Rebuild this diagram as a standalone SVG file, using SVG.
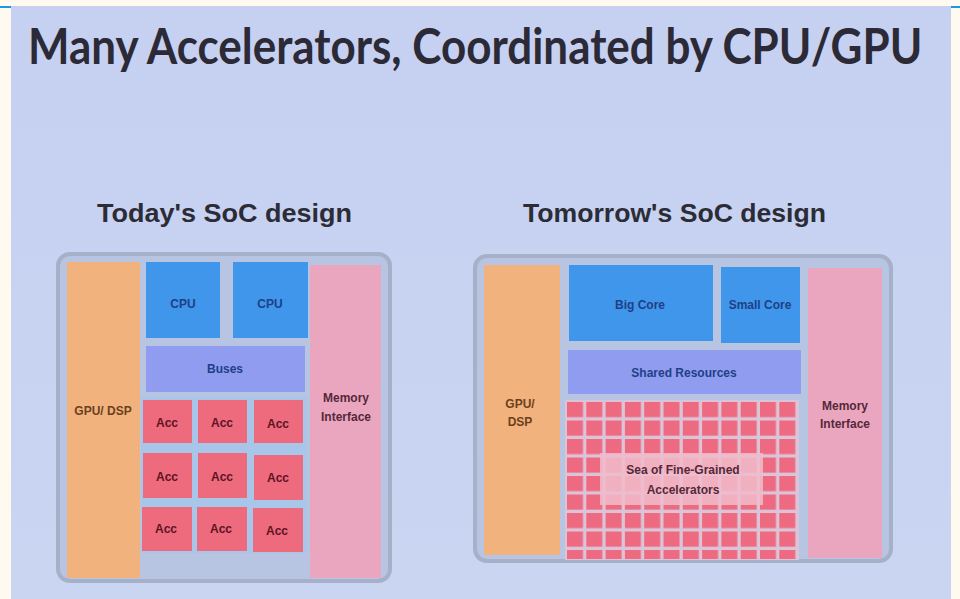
<svg xmlns="http://www.w3.org/2000/svg" width="960" height="599" viewBox="0 0 960 599">
<defs>
<style>
.title{font-family:Lato,"Open Sans","Liberation Sans",sans-serif;font-size:50px;fill:#2b2a36;font-weight:bold}
.sub{font-family:"Liberation Sans",Arial,sans-serif;font-size:26px;font-weight:bold;fill:#2c2c36}
.lbl{font-family:"Liberation Sans",Arial,sans-serif;font-size:12px;font-weight:bold;text-anchor:middle}
.chip{fill:#b7c4e2;stroke:#a6b0c8;stroke-width:4}
.gpu{fill:#f1b27e}
.cpu{fill:#4096ea}
.bus{fill:#909cf0}
.acc{fill:#ee6b7e}
.mem{fill:#eaa6bf}
.tb{fill:#1f3f86}
.tg{fill:#6c3f1c}
.tm{fill:#55283a}
.ta{fill:#5c1424}
</style>
<pattern id="sea" patternUnits="userSpaceOnUse" x="567" y="402" width="19.3" height="18.5">
<rect x="0" y="0" width="16" height="15.2" fill="#ee6a80"/>
</pattern>
<linearGradient id="bg" x1="0" y1="0" x2="0" y2="1">
<stop offset="0" stop-color="#c6d0f1"/>
<stop offset="1" stop-color="#cad5f2"/>
</linearGradient>
</defs>
<rect x="0" y="0" width="960" height="599" fill="#fffaef"/>
<rect x="11" y="6" width="940" height="593" fill="url(#bg)"/>
<rect x="0" y="6" width="11" height="2" fill="#1a98e0"/>
<rect x="951" y="6" width="9" height="2" fill="#1a98e0"/>

<text class="title" transform="translate(28,64) scale(0.86,1)" x="0" y="0" textLength="1040" lengthAdjust="spacingAndGlyphs">Many Accelerators, Coordinated by CPU/GPU</text>
<text class="sub" x="97" y="222" textLength="255" lengthAdjust="spacingAndGlyphs">Today's SoC design</text>
<text class="sub" x="523" y="222" textLength="303" lengthAdjust="spacingAndGlyphs">Tomorrow's SoC design</text>

<g id="today-chip">
<rect class="chip" x="58" y="254" width="332" height="327" rx="12"/>
</g>
<g id="today-gpu">
<rect class="gpu" x="67" y="262" width="73" height="316"/>
<text class="lbl tg" x="103" y="415">GPU/ DSP</text>
</g>
<g id="today-cpu1">
<rect class="cpu" x="146" y="262" width="74" height="76"/>
<text class="lbl tb" x="183" y="308">CPU</text>
</g>
<g id="today-cpu2">
<rect class="cpu" x="233" y="262" width="75" height="76"/>
<text class="lbl tb" x="270" y="308">CPU</text>
</g>
<g id="today-buses">
<rect class="bus" x="146" y="346" width="159" height="46"/>
<text class="lbl tb" x="225" y="373">Buses</text>
</g>
<g id="today-acc">
<rect fill="#a8c6ea" x="141" y="397" width="166" height="156"/>
<rect class="acc" x="143" y="400" width="49" height="43"/><text class="lbl ta" x="167" y="427">Acc</text>
<rect class="acc" x="198" y="400" width="49" height="43"/><text class="lbl ta" x="222" y="427">Acc</text>
<rect class="acc" x="254" y="400" width="49" height="43"/><text class="lbl ta" x="278" y="428">Acc</text>
<rect class="acc" x="143" y="453" width="49" height="45"/><text class="lbl ta" x="167" y="481">Acc</text>
<rect class="acc" x="198" y="453" width="49" height="45"/><text class="lbl ta" x="222" y="481">Acc</text>
<rect class="acc" x="254" y="455" width="49" height="45"/><text class="lbl ta" x="278" y="482">Acc</text>
<rect class="acc" x="142" y="507" width="50" height="44"/><text class="lbl ta" x="166" y="533">Acc</text>
<rect class="acc" x="197" y="507" width="50" height="44"/><text class="lbl ta" x="221" y="533">Acc</text>
<rect class="acc" x="253" y="508" width="50" height="44"/><text class="lbl ta" x="277" y="535">Acc</text>
</g>
<g id="today-memory">
<rect class="mem" x="310" y="265" width="71" height="313"/>
<text class="lbl tm" x="346" y="402">Memory</text>
<text class="lbl tm" x="346" y="421">Interface</text>
</g>

<g id="tomorrow-chip">
<rect class="chip" x="475" y="256" width="416" height="305" rx="12"/>
</g>
<g id="tomorrow-gpu">
<rect class="gpu" x="484" y="265" width="76" height="290"/>
<text class="lbl tg" x="520" y="408">GPU/</text>
<text class="lbl tg" x="520" y="426">DSP</text>
</g>
<g id="big-core">
<rect class="cpu" x="569" y="265" width="144" height="76"/>
<text class="lbl tb" x="640" y="309">Big Core</text>
</g>
<g id="small-core">
<rect class="cpu" x="721" y="267" width="79" height="76"/>
<text class="lbl tb" x="760" y="309">Small Core</text>
</g>
<g id="shared-resources">
<rect class="bus" x="568" y="350" width="233" height="44"/>
<text class="lbl tb" x="684" y="377">Shared Resources</text>
</g>
<g id="sea-accelerators">
<rect fill="#dcc4d8" x="565" y="400" width="234" height="160"/>
<rect fill="url(#sea)" x="567" y="402" width="231" height="157"/>
<rect fill="#f1bccb" fill-opacity="0.85" x="600" y="453" width="163" height="52"/>
<text class="lbl tm" x="683" y="474">Sea of Fine-Grained</text>
<text class="lbl tm" x="683" y="494">Accelerators</text>
</g>
<g id="tomorrow-memory">
<rect class="mem" x="808" y="268" width="74" height="290"/>
<text class="lbl tm" x="845" y="410">Memory</text>
<text class="lbl tm" x="845" y="428">Interface</text>
</g>
<g id="connectors"/>
</svg>
